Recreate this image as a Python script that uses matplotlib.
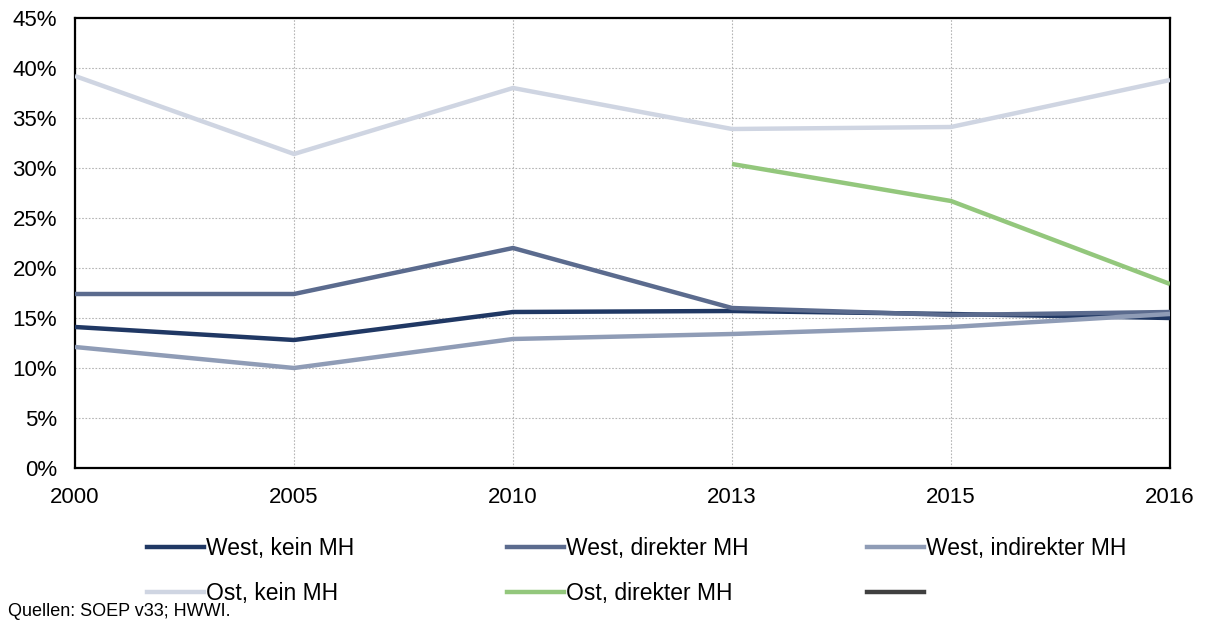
import matplotlib.pyplot as plt
from matplotlib.lines import Line2D
from matplotlib.ticker import FuncFormatter
import numpy as np

plt.rcParams['font.family'] = ['Liberation Sans', 'DejaVu Sans']

# Daten (Anteile in %)
years = ["2000", "2005", "2010", "2013", "2015", "2016"]
west_kein = [14.1, 12.8, 15.6, 15.7, 15.4, 15.0]
west_direkt = [17.4, 17.4, 22.0, 16.0, 15.3, 15.6]
west_indirekt = [12.1, 10.0, 12.9, 13.4, 14.1, 15.4]
ost_kein = [39.2, 31.4, 38.0, 33.9, 34.1, 38.8]
ost_direkt = [np.nan, np.nan, np.nan, 30.4, 26.7, 18.4]

labels = ["West, kein MH", "West, direkter MH", "West, indirekter MH",
          "Ost, kein MH", "Ost, direkter MH", ""]
colors = ["#203864", "#5b6b8e", "#8f9cb6", "#cfd5e2", "#93c77c", "#404040"]
series = [west_kein, west_direkt, west_indirekt, ost_kein, ost_direkt]

fig = plt.figure(figsize=(12.08, 6.21), dpi=100)
ax = fig.add_axes([75/1208, 1-468/621, (1170-75)/1208, (468-18)/621])

x = np.arange(len(years))
for vals, c in zip(series, colors):
    ax.plot(x, vals, color=c, lw=3.2, solid_capstyle="butt", zorder=3)

ax.set_xlim(0, len(years)-1)
ax.set_ylim(0, 45)
ax.set_xticks(x)
ax.set_xticklabels(years)
ax.set_yticks(np.arange(0, 46, 5))
ax.yaxis.set_major_formatter(FuncFormatter(lambda v, p: f"{int(v)}%"))
ax.tick_params(length=0, labelsize=16)
ax.tick_params(axis="x", pad=14)
ax.tick_params(axis="y", pad=13)
ax.grid(True, color="#b5b5b5", linestyle=(0, (1.5, 1.5)), lw=0.8, zorder=0)
for s in ax.spines.values():
    s.set_color("black")
    s.set_linewidth(1.6)

# Legende: drei Spalten, je zwei Zeilen
col_x = [147/1208, 507/1208, 867/1208]
for j in range(3):
    hs = [Line2D([], [], color=colors[j], lw=3.2),
          Line2D([], [], color=colors[j+3], lw=3.2)]
    fig.legend(hs, [labels[j], labels[j+3]], loc="upper left",
               bbox_to_anchor=(col_x[j], 1-537/621), frameon=False,
               fontsize=16.5, handlelength=2.5, handletextpad=0.08,
               labelspacing=0.97, borderpad=0, borderaxespad=0)

fig.text(8/1208, 1-616/621, "Quellen: SOEP v33; HWWI.", fontsize=13, va="baseline")

fig.savefig("out.png", dpi=100)
